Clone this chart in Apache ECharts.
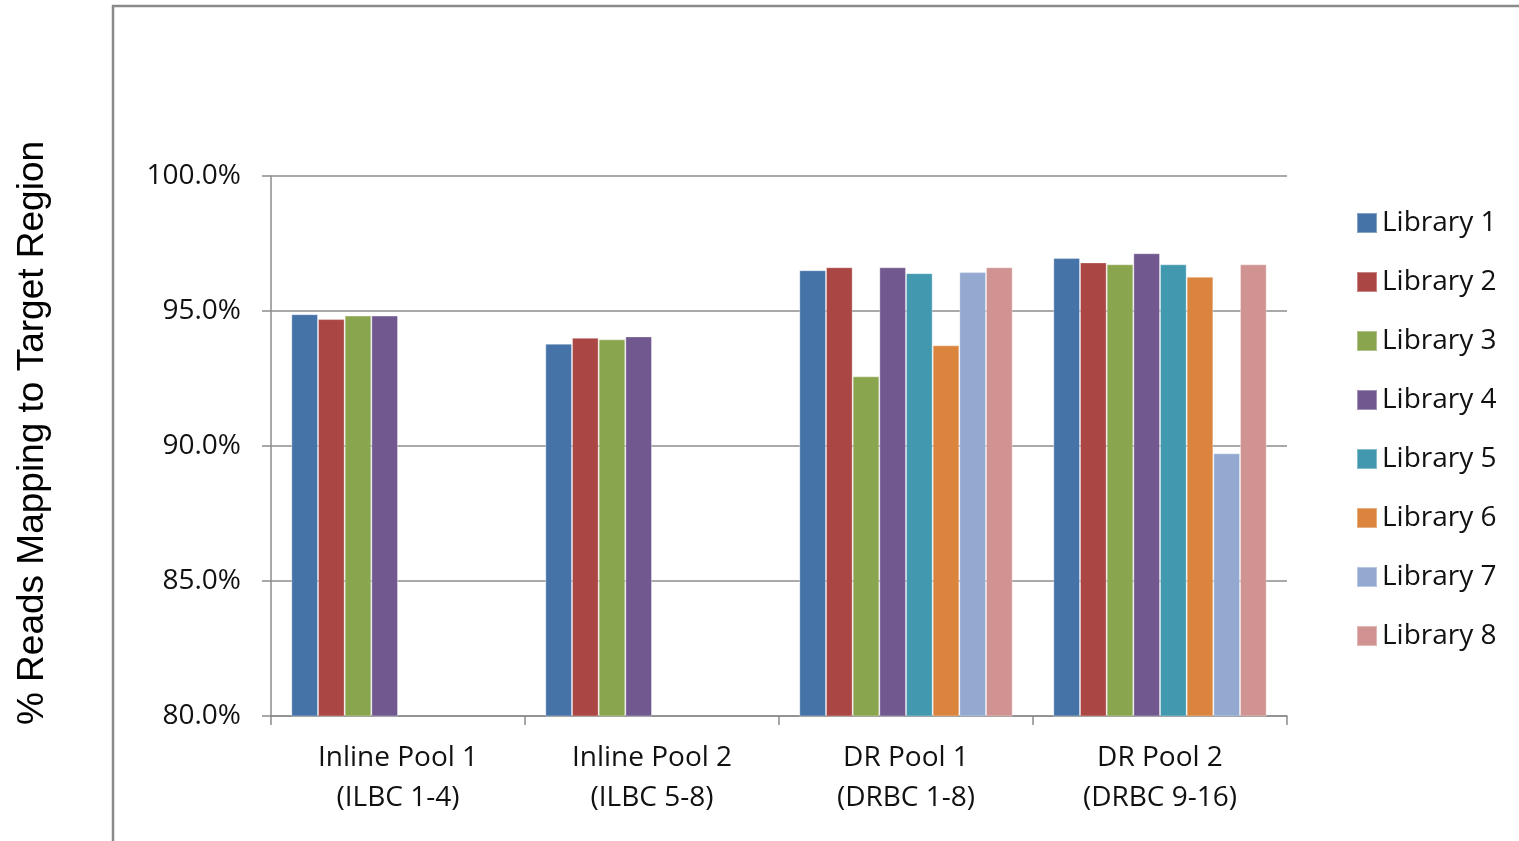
<!DOCTYPE html>
<html>
<head>
<meta charset="utf-8">
<script src="https://cdn.jsdelivr.net/npm/echarts@6/dist/echarts.min.js"></script>
<style>html,body{margin:0;padding:0;background:#fff;}#c{width:1519px;height:841px;}</style>
</head>
<body>
<div id="c"></div>
<script>
const categories = ['Inline Pool 1\n(ILBC 1-4)', 'Inline Pool 2\n(ILBC 5-8)', 'DR Pool 1\n(DRBC 1-8)', 'DR Pool 2\n(DRBC 9-16)'];
const seriesNames = ['Library 1','Library 2','Library 3','Library 4','Library 5','Library 6','Library 7','Library 8'];
const lib1 = [94.88, 93.79, 96.51, 96.96];
const lib2 = [94.70, 94.01, 96.62, 96.80];
const lib3 = [94.83, 93.95, 92.58, 96.73];
const lib4 = [94.83, 94.06, 96.62, 97.14];
const lib5 = [null, null, 96.40, 96.73];
const lib6 = [null, null, 93.73, 96.27];
const lib7 = [null, null, 96.44, 89.73];
const lib8 = [null, null, 96.62, 96.73];
const yTicks = [80, 85, 90, 95, 100];
const colors = ['#4572A7','#AA4643','#89A54E','#71588F','#4198AF','#DB843D','#93A9CF','#D19392'];
const allData = [lib1, lib2, lib3, lib4, lib5, lib6, lib7, lib8];

const chart = echarts.init(document.getElementById('c'), null, {renderer: 'canvas'});
const gray = '#8c8c8c';
const font = '"Open Sans", sans-serif';
chart.setOption({
  animation: false,
  color: colors,
  graphic: [{
    type: 'rect', shape: {x: 113, y: 6, width: 1500, height: 900},
    style: {fill: 'none', stroke: '#8a8a8a', lineWidth: 2.5}, silent: true
  }],
  grid: {left: 271, right: 232, top: 176, bottom: 125},
  legend: {
    orient: 'vertical', left: 1351, top: 204,
    itemWidth: 20, itemHeight: 20, itemGap: 31,
    icon: 'rect',
    textStyle: {fontSize: 28, fontFamily: font, color: '#111', padding: [0, 0, 0, 0]},
    data: seriesNames
  },
  xAxis: {
    type: 'category', data: categories,
    axisLine: {lineStyle: {color: gray, width: 1.5}},
    axisTick: {show: true, alignWithLabel: false, length: 9, lineStyle: {color: gray, width: 1.5}},
    axisLabel: {fontSize: 28, fontFamily: font, color: '#111', lineHeight: 40, margin: 22}
  },
  yAxis: {
    type: 'value', min: 80, max: 100, interval: 5,
    name: '% Reads Mapping to Target Region', nameLocation: 'middle', nameRotate: 90, nameGap: 220,
    nameTextStyle: {fontSize: 37, fontFamily: '"Liberation Sans", Arial, sans-serif', color: '#000', padding: [0, 0, 0, 26]},
    axisLine: {show: true, lineStyle: {color: gray, width: 1.5}},
    axisTick: {show: true, length: 9, lineStyle: {color: gray, width: 1.5}},
    splitLine: {lineStyle: {color: gray, width: 1.5}},
    axisLabel: {fontSize: 28, fontFamily: font, color: '#111', margin: 30,
      formatter: v => v.toFixed(1) + '%'}
  },
  series: allData.map((d, i) => ({
    name: seriesNames[i], type: 'bar', data: d,
    barGap: '0%', barCategoryGap: '16%',
    itemStyle: {color: colors[i], borderColor: 'rgba(255,255,255,0.35)', borderWidth: 1}
  }))
});
</script>
</body>
</html>
